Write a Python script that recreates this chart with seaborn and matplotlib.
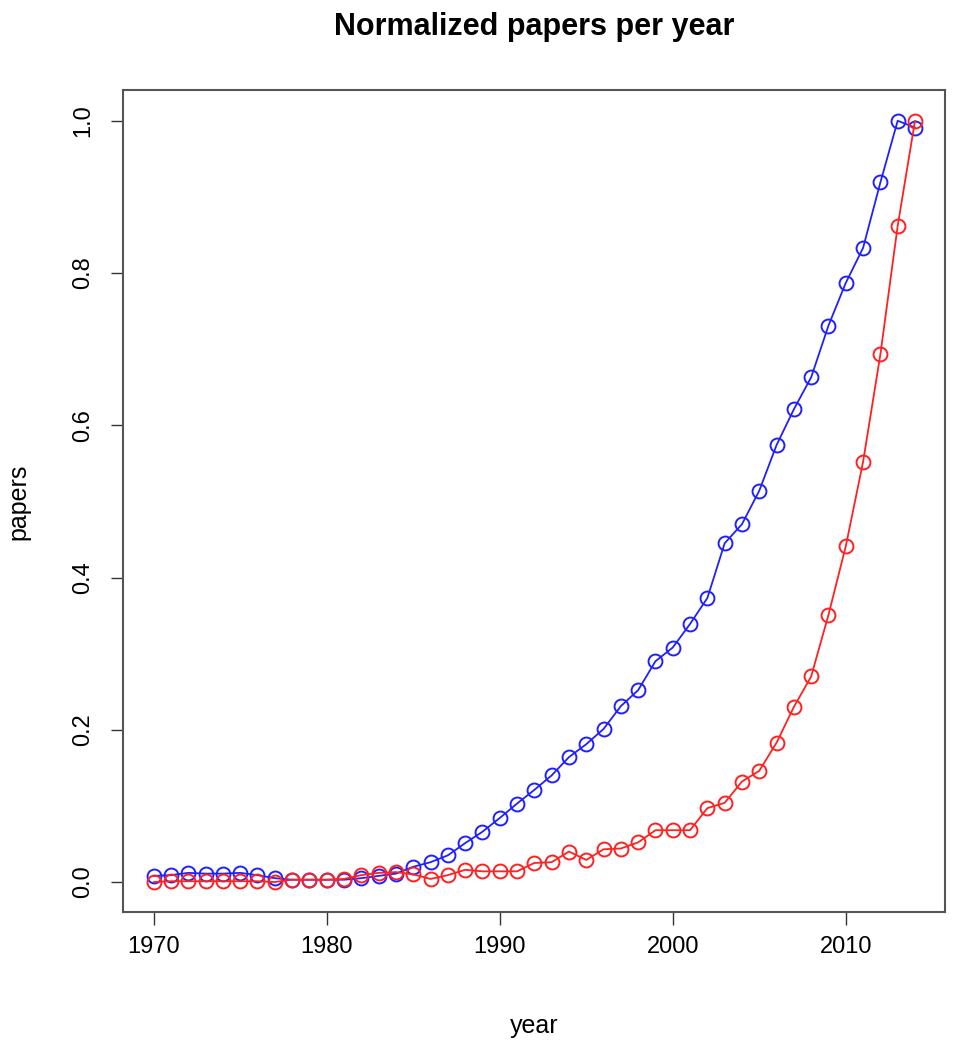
import pandas as pd
import seaborn as sns
import matplotlib.pyplot as plt

# Normalized paper counts per year
years = list(range(1970, 2015))
blue_papers = [0.008, 0.009, 0.012, 0.011, 0.011, 0.012, 0.009, 0.005, 0.003, 0.003,
               0.003, 0.003, 0.005, 0.008, 0.011, 0.020, 0.026, 0.035, 0.051, 0.066,
               0.084, 0.103, 0.121, 0.140, 0.164, 0.181, 0.201, 0.231, 0.252, 0.290,
               0.308, 0.339, 0.373, 0.445, 0.470, 0.514, 0.574, 0.621, 0.663, 0.731,
               0.787, 0.833, 0.919, 1.000, 0.991]
red_papers = [0.000, 0.001, 0.001, 0.001, 0.001, 0.001, 0.001, 0.000, 0.003, 0.003,
              0.003, 0.004, 0.009, 0.012, 0.013, 0.010, 0.004, 0.009, 0.016, 0.014,
              0.014, 0.014, 0.025, 0.026, 0.040, 0.029, 0.043, 0.044, 0.052, 0.068,
              0.068, 0.068, 0.097, 0.104, 0.132, 0.146, 0.183, 0.230, 0.270, 0.351,
              0.441, 0.552, 0.693, 0.862, 1.000]

sns.set_style("white")
plt.rcParams["font.family"] = ["Liberation Sans", "DejaVu Sans"]
plt.rcParams["text.color"] = "black"
plt.rcParams["axes.labelcolor"] = "black"

fig = plt.figure(figsize=(9.55, 10.5), dpi=100)
ax = fig.add_axes([0.129, 0.131, 0.861, 0.783])

df_blue = pd.DataFrame({"year": years, "papers": blue_papers})
df_red = pd.DataFrame({"year": years, "papers": red_papers})

sns.lineplot(data=df_blue, x="year", y="papers", color="#2020ff", marker="o",
             markersize=10, mfc="none", mec="#2020ff", mew=1.4, lw=1.3, ax=ax)
sns.lineplot(data=df_red, x="year", y="papers", color="#ff2020", marker="o",
             markersize=10, mfc="none", mec="#ff2020", mew=1.4, lw=1.3, ax=ax)

ax.set_xlim(1968.24, 2015.76)
ax.set_ylim(-0.04, 1.04)
ax.set_xticks([1970, 1980, 1990, 2000, 2010])
ax.set_yticks([0.0, 0.2, 0.4, 0.6, 0.8, 1.0])
ax.set_yticklabels(["0.0", "0.2", "0.4", "0.6", "0.8", "1.0"], rotation=90, va="center")
ax.tick_params(axis="both", direction="out", length=9, width=1, colors="#333333",
               labelsize=17, labelcolor="black", pad=8, left=True, bottom=True)
ax.tick_params(axis="y", pad=12)
for spine in ax.spines.values():
    spine.set_color("#555555")
    spine.set_linewidth(1.5)

ax.set_xlabel("year", fontsize=18, labelpad=40)
ax.set_ylabel("papers", fontsize=18, labelpad=30)
ax.set_title("Normalized papers per year", fontsize=22, fontweight="bold", pad=40)

fig.savefig("out.png", dpi=100)
